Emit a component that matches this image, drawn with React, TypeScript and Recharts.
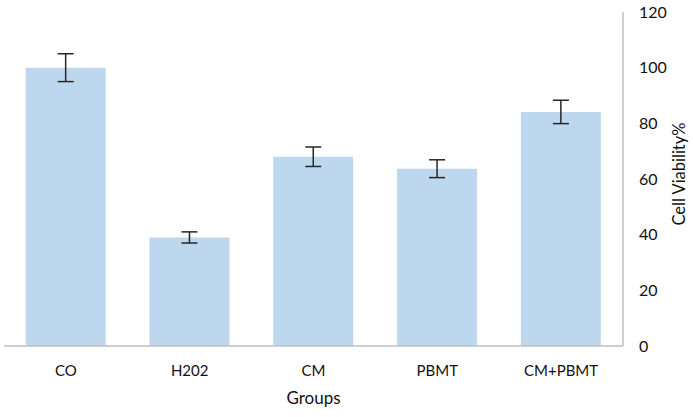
import React from 'react';
import { BarChart, Bar, XAxis, YAxis, ErrorBar } from 'recharts';

const groups = ['CO', 'H202', 'CM', 'PBMT', 'CM+PBMT'];
const viability = [100, 39, 68, 63.7, 84.1];
const viabilityErr = [5, 2, 3.5, 3.2, 4.2];
const yTicks = [0, 20, 40, 60, 80, 100, 120];

const FONT = 'Lato, "Open Sans", sans-serif';

// tabla para recharts
const data = groups.map((g, i) => ({ group: g, value: viability[i], err: viabilityErr[i] }));

const YLabel = (props: any) => {
  const vb = props.viewBox || {};
  const cx = vb.x + 56;
  const cy = 174;
  return (
    <text
      x={cx}
      y={cy}
      transform={`rotate(-90 ${cx} ${cy})`}
      textAnchor="middle"
      dominantBaseline="central"
      fill="#111"
      fontSize={16.5}
      fontFamily={FONT}
    >
      Cell Viability%
    </text>
  );
};

const App: React.FC = () => {
  return (
    <div style={{ position: 'absolute', left: 0, top: 0, background: '#fff' }}>
      <BarChart
        width={693}
        height={417}
        data={data}
        margin={{ top: 12, right: 0, bottom: 0, left: 4 }}
        barCategoryGap="17.5%"
      >
        <XAxis
          dataKey="group"
          height={71}
          axisLine={{ stroke: '#bfbfbf', strokeWidth: 1.5 }}
          tickLine={false}
          tickSize={0}
          tickMargin={19}
          tick={{ fill: '#111', fontSize: 15, fontFamily: FONT }}
          label={{ value: 'Groups', position: 'insideBottom', offset: 13, fill: '#111', fontSize: 17, fontFamily: FONT }}
        />
        <YAxis
          orientation="right"
          width={70}
          domain={[0, 120]}
          ticks={yTicks}
          interval={0}
          axisLine={{ stroke: '#bfbfbf', strokeWidth: 1.5 }}
          tickLine={false}
          tickSize={6}
          tickMargin={10}
          tick={{ fill: '#111', fontSize: 16, fontFamily: FONT }}
          label={<YLabel />}
        />
        <Bar dataKey="value" fill="#bdd7ee" isAnimationActive={false}>
          <ErrorBar dataKey="err" direction="y" width={8} stroke="#262626" strokeWidth={1.5} isAnimationActive={false} />
        </Bar>
      </BarChart>
    </div>
  );
};

export default App;
